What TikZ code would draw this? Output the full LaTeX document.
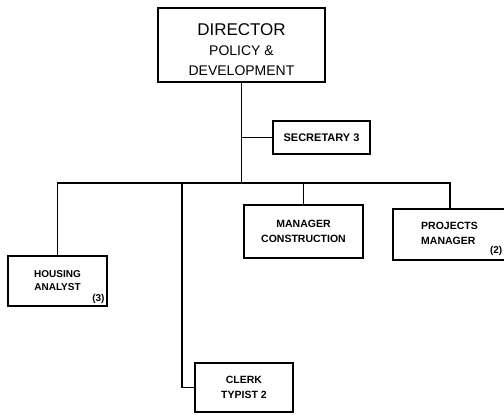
\documentclass[tikz,border=0pt]{standalone}
\usepackage{fontspec}
\setmainfont{Liberation Sans}
\usepackage{tikz}
\usetikzlibrary{positioning}
\tikzstyle{chart} = [x = 1pt, y = -1pt]
\tikzstyle{boxStyle} = [draw, line width = 1.4pt, inner sep = 0pt, align = center]
\tikzstyle{lineStyle} = [line width = 1.1pt]
\tikzstyle{boxText} = [align = center, font=\bfseries\fontsize{10.5}{15}\selectfont]
\tikzstyle{countText} = [font=\bfseries\fontsize{10}{12}\selectfont, inner sep = 1pt]
\newcommand{\busY}{183}

\begin{document}
\begin{tikzpicture}[chart]
            \clip (0,0) rectangle (504,415);
            \node [boxStyle, minimum width = 167pt, minimum height = 74pt, font=\fontsize{14}{21}\selectfont] (director) at (241.5,45)
              {\rule{0pt}{21pt}\fontsize{17}{22}\selectfont DIRECTOR\\[-1pt]\fontsize{14}{20}\selectfont POLICY \&\\[-1pt]DEVELOPMENT};
            \node [boxStyle, boxText, minimum width = 97pt, minimum height = 33pt, font=\bfseries\fontsize{11}{15}\selectfont] (secretary) at (321.5,137.5) {SECRETARY 3};
            \node [boxStyle, boxText, minimum width = 99pt, minimum height = 50pt, font=\bfseries\fontsize{10}{13}\selectfont] (housing) at (57.5,281) {HOUSING\\ANALYST};
            \node [boxStyle, boxText, minimum width = 119pt, minimum height = 53pt] (manager) at (303.5,231.5) {MANAGER\\CONSTRUCTION};
            \node [boxStyle, minimum width = 119pt, minimum height = 51pt] (projects) at (452.5,234.5) {};
            \node [boxText, align = left, anchor = west, inner sep = 0pt] (projectsText) at (421,233.5) {PROJECTS\\MANAGER};
            \node [boxStyle, boxText, minimum width = 98pt, minimum height = 49pt] (clerk) at (244,387.5) {CLERK\\TYPIST 2};
            \node [countText, anchor = south east] (housingCount) at ([shift={(-2,-2)}]housing.south east) {(3)};
            \node [countText, anchor = east] (projectsCount) at (503.5,251) {(2)};

            \coordinate (busLeft) at (58,\busY);
            \coordinate (busRight) at (450,\busY);
            \coordinate (clerkDrop) at (182,\busY);
            \draw [lineStyle] (director.south) -- (director.south |- busLeft);
            \draw [lineStyle] (director.south |- secretary.west) -- (secretary.west);
            \draw [lineStyle] (housing.north) -- (housing.north |- busLeft) -- (busRight) -- (busRight |- projects.north);
            \draw [lineStyle] (manager.north) -- (manager.north |- busLeft);
            \draw [lineStyle] (clerkDrop) |- (clerk.west);
          \end{tikzpicture}
\end{document}
